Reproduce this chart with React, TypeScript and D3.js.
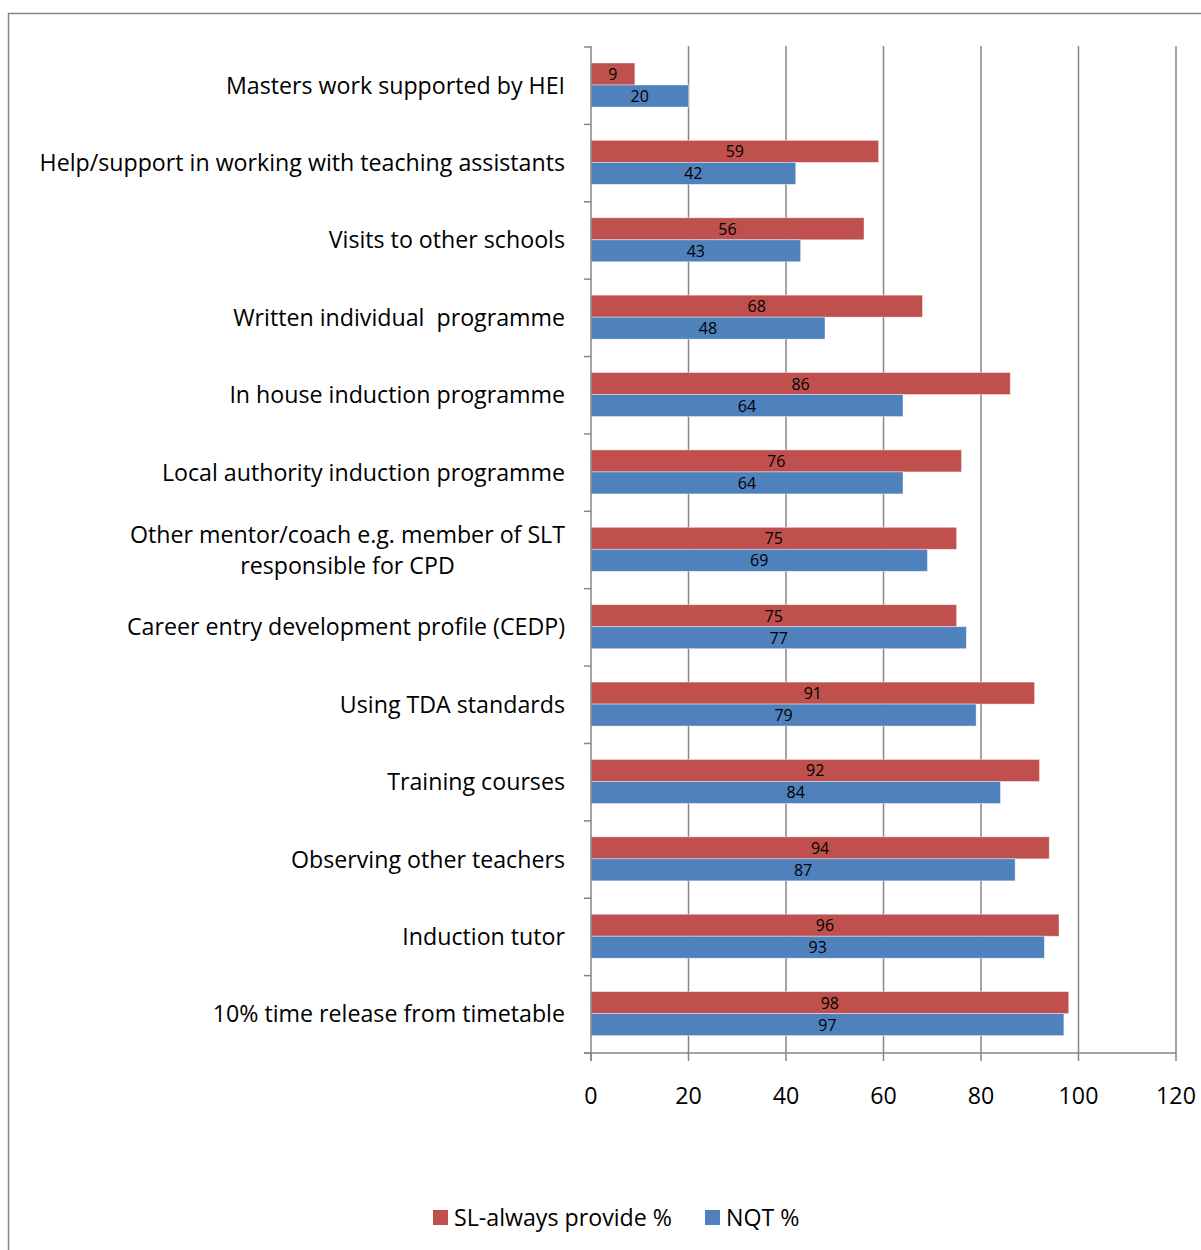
import React, { useEffect, useRef } from "react";
import * as d3 from "d3";

const categories: string[][] = [
  ["Masters work supported by HEI"],
  ["Help/support in working with teaching assistants"],
  ["Visits to other schools"],
  ["Written individual  programme"],
  ["In house induction programme"],
  ["Local authority induction programme"],
  ["Other mentor/coach e.g. member of SLT", "responsible for CPD"],
  ["Career entry development profile (CEDP)"],
  ["Using TDA standards"],
  ["Training courses"],
  ["Observing other teachers"],
  ["Induction tutor"],
  ["10% time release from timetable"],
];
const slValues = [9, 59, 56, 68, 86, 76, 75, 75, 91, 92, 94, 96, 98];
const nqtValues = [20, 42, 43, 48, 64, 64, 69, 77, 79, 84, 87, 93, 97];
const xTicks = [0, 20, 40, 60, 80, 100, 120];
const seriesNames = ["SL-always provide %", "NQT %"];
const colors = ["#C0504D", "#4F81BD"];

const W = 1201, H = 1250;
const FONT = "'Open Sans', sans-serif";
const FS = 23.2;

export default function App() {
  const ref = useRef<SVGSVGElement>(null);
  useEffect(() => {
    const svg = d3.select(ref.current);
    svg.selectAll("*").remove();
    const x = d3.scaleLinear().domain([0, 120]).range([591, 1176]);
    const idx = categories.map((_, i) => String(i));
    const y = d3.scaleBand().domain(idx).range([47, 1053]);
    const bw = y.bandwidth();
    const barH = 22;
    const off = 16;

    // frame
    svg.append("path").attr("d", `M8.5,1250 V13.5 H1201`).attr("fill", "none").attr("stroke", "#868686").attr("stroke-width", 1.5);

    // gridlines
    svg.append("g").selectAll("line").data(xTicks.slice(1)).join("line")
      .attr("x1", d => x(d)).attr("x2", d => x(d)).attr("y1", 46).attr("y2", 1053)
      .attr("stroke", "#868686").attr("stroke-width", 1.5);

    // bars
    const g = svg.append("g");
    categories.forEach((_, i) => {
      const top = y(String(i))! + off;
      [slValues[i], nqtValues[i]].forEach((v, s) => {
        const yy = top + s * barH;
        g.append("rect").attr("x", x(0)).attr("y", yy).attr("width", x(v) - x(0)).attr("height", barH)
          .attr("fill", colors[s]).attr("stroke", "#ffffff").attr("stroke-opacity", 0.5).attr("stroke-width", 0.8);
        g.append("text").attr("x", (x(0) + x(v)) / 2).attr("y", yy + barH / 2 + 6)
          .attr("text-anchor", "middle").attr("font-family", FONT).attr("font-size", 16).attr("fill", "#000")
          .text(v);
      });
    });

    // y axis
    svg.append("line").attr("x1", 591).attr("x2", 591).attr("y1", 46).attr("y2", 1061).attr("stroke", "#868686").attr("stroke-width", 1.5);
    const yTicks = d3.range(categories.length + 1).map(i => 47 + i * bw);
    svg.append("g").selectAll("line").data(yTicks).join("line")
      .attr("x1", 584).attr("x2", 591).attr("y1", d => d).attr("y2", d => d)
      .attr("stroke", "#868686").attr("stroke-width", 1.5);

    // x axis
    svg.append("line").attr("x1", 584).attr("x2", 1176).attr("y1", 1053).attr("y2", 1053).attr("stroke", "#868686").attr("stroke-width", 1.5);
    svg.append("g").selectAll("line").data(xTicks).join("line")
      .attr("x1", d => x(d)).attr("x2", d => x(d)).attr("y1", 1053).attr("y2", 1061)
      .attr("stroke", "#868686").attr("stroke-width", 1.5);
    svg.append("g").selectAll("text").data(xTicks).join("text")
      .attr("x", d => x(d)).attr("y", 1104).attr("text-anchor", "middle")
      .attr("font-family", FONT).attr("font-size", FS).attr("fill", "#000").text(d => d);

    // category labels
    categories.forEach((lines, i) => {
      const c = y(String(i))! + bw / 2;
      const lh = 31;
      const t = svg.append("text").attr("font-family", FONT).attr("font-size", FS).attr("fill", "#000")
        .style("white-space", "pre");
      const spans = lines.map((ln, k) =>
        t.append("tspan").attr("y", c + 8 + (k - (lines.length - 1) / 2) * lh).text(ln)
      );
      const widths = spans.map(sp => (sp.node() as SVGTSpanElement).getComputedTextLength());
      const maxW = Math.max(...widths);
      const cx = 565 - maxW / 2;
      spans.forEach(sp => sp.attr("x", cx).attr("text-anchor", "middle"));
    });

    // legend
    const leg = svg.append("g");
    const items = [{ x: 433, tx: 454 }, { x: 705, tx: 726 }];
    items.forEach((it, s) => {
      leg.append("rect").attr("x", it.x).attr("y", 1210).attr("width", 15).attr("height", 15).attr("fill", colors[s]);
      leg.append("text").attr("x", it.tx).attr("y", 1226).attr("font-family", FONT).attr("font-size", FS).attr("fill", "#000").text(seriesNames[s]);
    });
  }, []);
  return (
    <svg ref={ref} width={W} height={H} style={{ position: "absolute", left: 0, top: 0, background: "#fff" }} />
  );
}
